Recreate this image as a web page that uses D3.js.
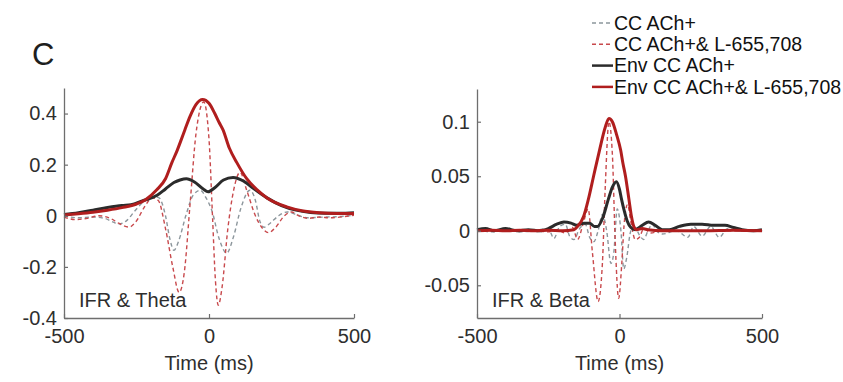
<!DOCTYPE html>
<html>
<head>
<meta charset="utf-8">
<script src="https://cdn.jsdelivr.net/npm/d3@7"></script>
<style>
  body { margin: 0; background: #fff; }
  svg { display: block; font-family: "Liberation Sans", Arial, sans-serif; }
</style>
</head>
<body>
<div id="chart"></div>
<script>
// Legend entries (same order as plotted)
const seriesNames = ["CC ACh+", "CC ACh+& L-655,708", "Env CC ACh+", "Env CC ACh+& L-655,708"];

// Theta panel: [time ms, value]
const thetaCC = [[-500,0],[-450,-0.008],[-400,-0.005],[-360,-0.01],[-330,-0.025],[-310,-0.032],[-285,-0.02],[-255,0.02],[-220,0.06],[-190,0.075],[-172,0.07],[-150,0],[-135,-0.09],[-121,-0.135],[-105,-0.1],[-80,0],[-55,0.08],[-30,0.1],[-10,0.07],[10,0.02],[35,-0.09],[61,-0.146],[85,-0.08],[110,0.03],[141,0.1],[160,0.06],[175,-0.02],[190,-0.045],[210,-0.03],[240,0],[270,0.015],[300,0.005],[340,-0.008],[400,-0.005],[450,-0.003],[500,0.002]];
const thetaCCL = [[-500,-0.005],[-460,-0.015],[-420,-0.01],[-380,0],[-340,-0.01],[-310,-0.03],[-276,-0.044],[-250,-0.02],[-225,0.03],[-195,0.07],[-175,0.06],[-150,-0.05],[-125,-0.2],[-103,-0.3],[-85,-0.22],[-65,0.05],[-45,0.32],[-18,0.445],[0,0.3],[12,0],[22,-0.25],[32,-0.35],[45,-0.28],[65,-0.05],[85,0.1],[107,0.17],[130,0.1],[160,0],[185,-0.05],[205,-0.066],[230,-0.045],[260,0],[285,0.015],[310,0],[340,-0.01],[380,-0.005],[420,-0.008],[460,-0.004],[500,0.002]];
const thetaEnv = [[-500,0.005],[-450,0.012],[-400,0.022],[-350,0.032],[-300,0.04],[-269,0.043],[-230,0.058],[-179,0.08],[-150,0.105],[-121,0.13],[-100,0.14],[-78,0.145],[-50,0.132],[-20,0.105],[-3,0.094],[20,0.11],[50,0.14],[83,0.15],[120,0.135],[150,0.11],[200,0.07],[250,0.04],[300,0.022],[350,0.013],[400,0.01],[450,0.01],[500,0.012]];
const thetaEnvL = [[-500,0.003],[-450,0.008],[-400,0.014],[-350,0.022],[-300,0.032],[-250,0.046],[-220,0.062],[-180,0.102],[-150,0.145],[-128,0.208],[-110,0.255],[-95,0.3],[-83,0.337],[-65,0.39],[-45,0.435],[-22,0.455],[0,0.44],[20,0.4],[35,0.365],[48,0.337],[70,0.265],[96,0.208],[130,0.145],[165,0.102],[200,0.07],[268,0.035],[320,0.02],[380,0.012],[440,0.009],[500,0.009]];

// Beta panel: [time ms, value]
const betaCC = [[-500,0.001],[-450,-0.001],[-400,0.001],[-350,-0.001],[-300,0],[-250,0.002],[-230,-0.007],[-210,0.004],[-190,0.006],[-175,-0.005],[-160,-0.008],[-140,0.002],[-120,0.006],[-105,-0.006],[-90,-0.01],[-75,0],[-60,0.015],[-45,0],[-30,-0.03],[-20,-0.02],[-8,0.02],[5,0],[15,-0.035],[25,-0.025],[40,0],[55,0.003],[70,-0.004],[85,-0.008],[100,0],[115,0.006],[130,0],[150,-0.003],[200,0],[240,-0.006],[260,0.004],[290,-0.005],[320,0.004],[350,-0.006],[380,0.002],[420,0],[500,0.001]];
const betaCCL = [[-500,0],[-400,0.0005],[-300,0],[-250,-0.001],[-220,0.001],[-190,-0.002],[-165,0.003],[-147,-0.008],[-128,0.006],[-110,0.02],[-95,-0.02],[-75,-0.065],[-60,-0.03],[-50,0.04],[-37,0.1],[-25,0.07],[-15,-0.01],[-3,-0.062],[8,-0.03],[16,0.005],[28,0.024],[42,0.005],[55,-0.008],[70,-0.006],[85,0.002],[110,-0.002],[150,0],[200,0],[300,0],[400,0],[500,0]];
const betaEnv = [[-500,0.001],[-470,0.002],[-440,0],[-400,0.002],[-360,0],[-320,0.001],[-280,0],[-250,0.002],[-220,0.006],[-195,0.008],[-170,0.007],[-150,0.005],[-125,0.007],[-105,0.007],[-88,0.004],[-77,0.004],[-60,0.011],[-39,0.029],[-25,0.04],[-11,0.045],[0,0.038],[7,0.029],[17,0.018],[27,0.009],[40,0.003],[55,0.001],[80,0.005],[102,0.008],[125,0.005],[150,0.001],[175,0.001],[210,0.004],[250,0.006],[290,0.006],[330,0.005],[370,0.005],[400,0.003],[430,0.001],[470,0],[500,0.001]];
const betaEnvL = [[-500,0],[-450,0.0005],[-400,0],[-350,0.0005],[-300,0],[-250,0.0005],[-200,0],[-160,0.001],[-147,0.004],[-126,0.013],[-110,0.028],[-91,0.05],[-70,0.074],[-50,0.095],[-37,0.103],[-25,0.1],[-10,0.088],[4,0.074],[12,0.062],[21,0.05],[33,0.029],[42,0.013],[50,0.004],[60,0.001],[80,0.002],[100,0.001],[150,0],[200,0],[300,0],[400,0.0005],[500,0]];

const xTicks = [-500, 0, 500];
const thetaYTicks = [-0.4, -0.2, 0, 0.2, 0.4];
const betaYTicks = [-0.05, 0, 0.05, 0.1];

const styles = [
  { color: "#8c969c", width: 1.4, dash: "4,3" },
  { color: "#c8494c", width: 1.4, dash: "4,3" },
  { color: "#2b2b2b", width: 3, dash: null },
  { color: "#b01e1e", width: 3, dash: null }
];

const width = 843;
const height = 382;

// plain hyphen for negatives, like the original figure
const fmt = d => String(d);

const svg = d3.select("#chart")
  .append("svg")
  .attr("width", width)
  .attr("height", height);

const drawPanel = (cfg) => {
  const xScale = d3.scaleLinear().domain([-500, 500]).range([cfg.left, cfg.right]);
  const yScale = d3.scaleLinear().domain(cfg.yDomain).range([318, cfg.top]);

  const g = svg.append("g");

  // Lines
  const line = d3.line()
    .x(d => xScale(d[0]))
    .y(d => yScale(d[1]))
    .curve(d3.curveMonotoneX);

  cfg.series.forEach((s, i) => {
    g.append("path")
      .datum(s)
      .attr("d", line)
      .attr("fill", "none")
      .attr("stroke", styles[i].color)
      .attr("stroke-width", styles[i].width)
      .attr("stroke-dasharray", styles[i].dash)
      .attr("stroke-linejoin", "round");
  });

  // Axes (ticks point inwards, matlab style)
  const yAxis = g.append("g")
    .attr("transform", `translate(${cfg.left},0)`)
    .call(d3.axisLeft(yScale).tickValues(cfg.yTicks).tickSizeInner(-4).tickSizeOuter(0).tickPadding(7).tickFormat(fmt));
  const xAxis = g.append("g")
    .attr("transform", "translate(0,318)")
    .call(d3.axisBottom(xScale).tickValues(xTicks).tickSizeInner(-4).tickSizeOuter(0).tickPadding(11).tickFormat(fmt));

  [yAxis, xAxis].forEach(ax => {
    ax.select(".domain").attr("stroke", "#6e6e6e").attr("stroke-width", 1.3);
    ax.selectAll(".tick line").attr("stroke", "#6e6e6e").attr("stroke-width", 1.2);
    ax.selectAll(".tick text")
      .attr("fill", "#2e2e2e")
      .style("font-size", "20px")
      .style("font-family", "Liberation Sans, Arial, sans-serif");
  });

  g.append("text")
    .attr("x", (cfg.left + cfg.right) / 2)
    .attr("y", 370)
    .attr("text-anchor", "middle")
    .attr("fill", "#2e2e2e")
    .style("font-size", "20px")
    .text("Time (ms)");

  g.append("text")
    .attr("x", cfg.left + 15)
    .attr("y", 307)
    .attr("fill", "#2e2e2e")
    .style("font-size", "20px")
    .text(cfg.label);
};

drawPanel({
  left: 64, right: 354, top: 88,
  yDomain: [-0.4, 0.5], yTicks: thetaYTicks,
  series: [thetaCC, thetaCCL, thetaEnv, thetaEnvL],
  label: "IFR & Theta"
});

drawPanel({
  left: 477, right: 762, top: 89,
  yDomain: [-0.08, 0.13], yTicks: betaYTicks,
  series: [betaCC, betaCCL, betaEnv, betaEnvL],
  label: "IFR & Beta"
});

// Panel letter
svg.append("text")
  .attr("x", 32)
  .attr("y", 65)
  .attr("fill", "#1e1e1e")
  .style("font-size", "31px")
  .text("C");

// Legend
const legend = svg.append("g");
seriesNames.forEach((name, i) => {
  const y = 23 + i * 21.3;
  legend.append("line")
    .attr("x1", 592).attr("x2", 613)
    .attr("y1", y).attr("y2", y)
    .attr("stroke", styles[i].color)
    .attr("stroke-width", i < 2 ? 1.4 : 2.5)
    .attr("stroke-dasharray", styles[i].dash);
  legend.append("text")
    .attr("x", 614)
    .attr("y", y)
    .attr("dy", "0.35em")
    .attr("fill", "#111")
    .style("font-size", "19.5px")
    .text(name);
});
</script>
</body>
</html>
